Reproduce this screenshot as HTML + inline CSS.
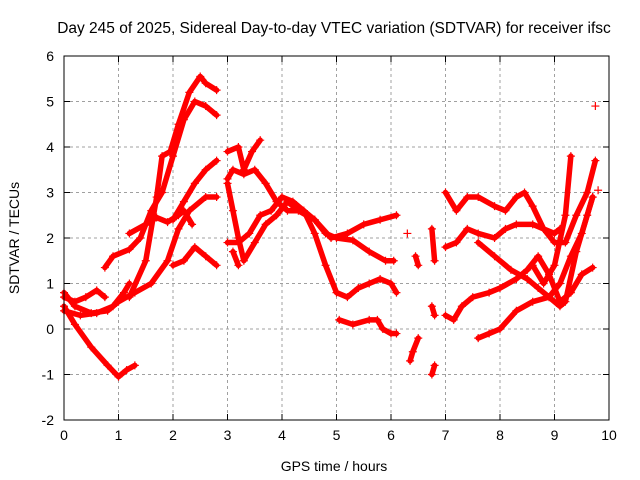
<!DOCTYPE html>
<html><head><meta charset="utf-8"><style>
body{margin:0;background:#fff}
svg{display:block;font-family:"Liberation Sans",sans-serif}
</style></head><body>
<svg id="chart" width="640" height="480">
<text x="334" y="33" font-size="15.5" text-anchor="middle">Day 245 of 2025, Sidereal Day-to-day VTEC variation (SDTVAR) for receiver ifsc</text>
<text x="334" y="471" font-size="14" text-anchor="middle">GPS time / hours</text>
<text transform="translate(19,238) rotate(-90)" font-size="14" text-anchor="middle">SDTVAR / TECUs</text>
<g id="grid"></g><g id="series"></g><g id="axes"></g>
</svg>
<script>
const xTicks=[0,1,2,3,4,5,6,7,8,9,10];
const yTicks=[-2,-1,0,1,2,3,4,5,6];
const trackA1=[[0,0.7],[0.2,0.6],[0.4,0.7],[0.6,0.85],[0.75,0.7]];
const trackA2=[[0,0.4],[0.3,0.3],[0.6,0.35],[0.9,0.5],[1.1,0.8],[1.2,1.0]];
const trackA3=[[0,0.5],[0.2,0.1],[0.5,-0.4],[0.8,-0.8],[1.0,-1.05],[1.15,-0.9],[1.3,-0.8]];
const trackA4=[[0,0.8],[0.2,0.5],[0.5,0.35],[0.8,0.4],[1.0,0.6],[1.3,0.8],[1.6,1.0],[1.9,1.5],[2.1,2.2],[2.3,2.6],[2.6,2.9],[2.8,2.9]];
const trackB=[[0.75,1.35],[0.9,1.6],[1.2,1.75],[1.4,2.0],[1.6,2.6],[1.8,3.0],[2.0,3.8],[2.2,4.6],[2.4,5.0],[2.6,4.9],[2.8,4.7]];
const trackC=[[1.2,2.1],[1.5,2.3],[1.7,2.45],[1.9,2.35],[2.1,2.5],[2.2,2.6],[2.35,2.3]];
const trackD=[[1.2,0.7],[1.5,1.5],[1.7,2.9],[1.8,3.8],[1.95,3.9],[2.1,4.5],[2.3,5.2],[2.5,5.55],[2.6,5.4],[2.8,5.25]];
const trackE=[[2.0,1.4],[2.2,1.5],[2.4,1.8],[2.6,1.6],[2.8,1.4]];
const trackF=[[2.0,2.4],[2.2,2.8],[2.4,3.2],[2.6,3.5],[2.8,3.7]];
const trackG=[[3.0,3.9],[3.2,4.0],[3.3,3.5],[3.45,3.9],[3.6,4.15]];
const trackH=[[3.0,3.3],[3.1,3.5],[3.3,3.4],[3.5,3.5],[3.7,3.2],[3.9,2.8],[4.1,2.6],[4.4,2.6],[4.6,2.4],[4.8,2.1],[5.0,2.0],[5.3,1.95],[5.6,1.7],[5.9,1.5],[6.05,1.5]];
const trackI=[[3.0,1.9],[3.2,1.9],[3.4,2.1],[3.6,2.5],[3.8,2.6],[4.0,2.9],[4.2,2.8],[4.4,2.6],[4.6,2.1],[4.8,1.4],[5.0,0.8],[5.2,0.7],[5.4,0.9],[5.6,1.0],[5.8,1.1],[6.0,1.0],[6.1,0.8]];
const trackJ=[[3.0,3.2],[3.1,2.6],[3.2,2.0],[3.3,1.5],[3.5,1.9],[3.7,2.3],[3.9,2.5],[4.1,2.8],[4.3,2.6],[4.6,2.4],[4.9,2.0],[5.2,2.1],[5.5,2.3],[5.8,2.4],[6.1,2.5]];
const trackK=[[5.05,0.2],[5.3,0.1],[5.6,0.2],[5.75,0.2],[5.85,0.0],[6.0,-0.1],[6.1,-0.1]];
const trackL=[[3.1,1.7],[3.2,1.4]];
const trackS1=[[6.35,-0.7],[6.4,-0.5],[6.5,-0.2]];
const trackS2=[[6.45,1.6],[6.5,1.4]];
const trackS3=[[6.75,-1.0],[6.8,-0.8]];
const trackS4=[[6.75,0.5],[6.8,0.3]];
const trackS5=[[6.75,2.2],[6.8,1.5]];
const trackM=[[7.0,3.0],[7.2,2.6],[7.4,2.9],[7.6,2.9],[7.9,2.7],[8.1,2.6],[8.3,2.9],[8.45,3.0],[8.6,2.7],[8.8,2.2],[9.0,2.1],[9.1,2.2]];
const trackN=[[7.0,1.8],[7.2,1.9],[7.4,2.2],[7.6,2.1],[7.9,2.0],[8.1,2.2],[8.3,2.3],[8.6,2.3],[8.8,2.2],[9.0,1.9],[9.2,1.9],[9.4,2.5],[9.6,3.0],[9.75,3.7]];
const trackO=[[7.0,0.3],[7.15,0.2],[7.3,0.5],[7.5,0.7],[7.8,0.8],[8.0,0.9],[8.3,1.1],[8.5,1.3],[8.7,1.6],[8.9,1.2],[9.1,0.6],[9.3,0.8],[9.5,1.2],[9.7,1.35]];
const trackP=[[7.6,-0.2],[7.8,-0.1],[8.0,0.0],[8.3,0.4],[8.6,0.6],[8.9,0.7],[9.1,1.0],[9.3,1.6],[9.5,2.1],[9.7,2.9]];
const trackQ=[[7.6,1.9],[7.9,1.6],[8.2,1.3],[8.5,1.1],[8.7,0.9],[8.9,0.7],[9.1,0.5],[9.2,0.6],[9.4,1.7],[9.6,2.5],[9.7,2.9]];
const trackR=[[8.6,1.4],[8.8,1.0],[9.0,1.4],[9.2,2.5],[9.3,3.8]];
const outliers=[[9.75,4.9],[6.3,2.1],[9.8,3.05]];
const tracks=[trackA1,trackA2,trackA3,trackA4,trackB,trackC,trackD,trackE,trackF,trackG,trackH,trackI,trackJ,trackK,trackL,trackS1,trackS2,trackS3,trackS4,trackS5,trackM,trackN,trackO,trackP,trackQ,trackR];

const L=64,R=609,T=56,B=420;
const X=v=>L+(v-0)/(10-0)*(R-L);
const Y=v=>B-(v+2)/(6+2)*(B-T);
const NS="http://www.w3.org/2000/svg";
function mk(tag,parent,attrs){const e=document.createElementNS(NS,tag);for(const k in attrs)e.setAttribute(k,attrs[k]);parent.appendChild(e);return e;}
const grid=document.getElementById('grid'),axes=document.getElementById('axes'),ser=document.getElementById('series');
xTicks.forEach(t=>{
  const g=mk('line',grid,{x1:X(t),x2:X(t),y1:T,y2:B,stroke:'#a0a0a0','stroke-dasharray':'3,3'});
  
  
  const l=mk('text',axes,{x:X(t),y:B+20,'font-size':14,'text-anchor':'middle'});l.textContent=t;
  
  
  mk('line',axes,{x1:X(t),x2:X(t),y1:B,y2:B-6,stroke:'#000'});
  mk('line',axes,{x1:X(t),x2:X(t),y1:T,y2:T+6,stroke:'#000'});
});
yTicks.forEach(t=>{
  const g=mk('line',grid,{x1:L,x2:R,y1:Y(t),y2:Y(t),stroke:'#a0a0a0','stroke-dasharray':'3,3'});
  
  
  const l=mk('text',axes,{x:L-10,y:Y(t)+5,'font-size':14,'text-anchor':'end'});l.textContent=t;
  
  
  mk('line',axes,{x1:L,x2:L+6,y1:Y(t),y2:Y(t),stroke:'#000'});
  mk('line',axes,{x1:R,x2:R-6,y1:Y(t),y2:Y(t),stroke:'#000'});
});
const fr=mk('rect',axes,{x:L,y:T,width:R-L,height:B-T,fill:'none',stroke:'#000'});


function plus(p,x,y){mk('path',p,{d:`M${x-4},${y}h8M${x},${y-4}v8`,stroke:'#f00','stroke-width':1.2});}
tracks.forEach(tr=>{
  const g=mk('g',ser,{});
  
  
  mk('polyline',g,{points:tr.map(p=>X(p[0])+','+Y(p[1])).join(' '),fill:'none',stroke:'#f00','stroke-width':5.5,'stroke-linejoin':'round','stroke-linecap':'round'});
  tr.forEach(p=>plus(g,X(p[0]),Y(p[1])));
});
const og=mk('g',ser,{});


outliers.forEach(p=>plus(og,X(p[0]),Y(p[1])));
</script>
</body></html>
